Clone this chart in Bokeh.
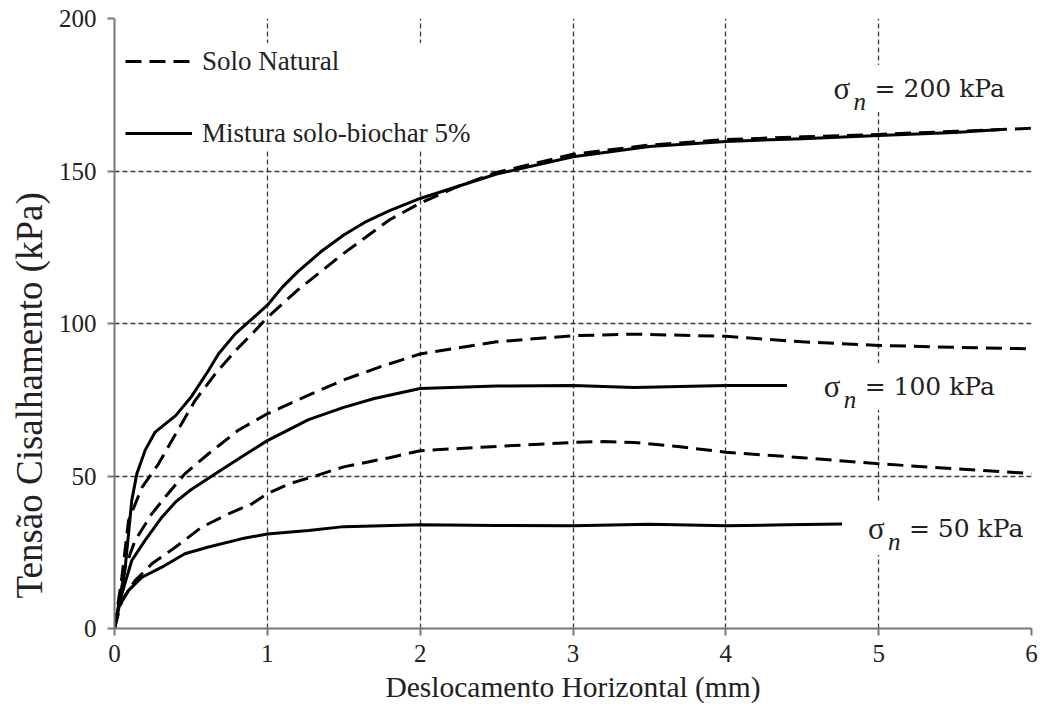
from bokeh.plotting import figure
from bokeh.models import FixedTicker, Legend, LegendItem, Label, Range1d, Title
from bokeh.embed import file_html
from bokeh.resources import INLINE

# ---- data ----
x_nat_200 = [0, 0.048, 0.092, 0.18, 0.288, 0.4, 0.528, 0.66, 0.79, 0.9, 1.0, 1.2, 1.5, 1.8, 2.0, 2.25, 2.5, 3.0, 3.5, 4.0, 4.5, 5.0, 5.5, 6.0]
y_nat_200 = [0, 16.8, 35.4, 46.3, 54, 63.8, 74.8, 83.5, 91, 96.6, 102, 111, 123, 134, 139.5, 145, 149.5, 155.5, 158.5, 160.3, 161.2, 162, 163, 164]

x_mix_200 = [0, 0.07, 0.113, 0.146, 0.2, 0.266, 0.4, 0.5, 0.615, 0.68, 0.79, 0.9, 1.0, 1.1, 1.2, 1.35, 1.5, 1.65, 1.8, 2.0, 2.25, 2.5, 3.0, 3.5, 4.0, 4.5, 5.0, 5.5, 5.8]
y_mix_200 = [0, 20, 42, 50.7, 58.4, 64.4, 69.8, 75.8, 84.6, 90, 96.6, 101.5, 106, 112, 117, 123.5, 129, 133.5, 137, 141, 145, 149, 154.7, 158, 159.7, 160.6, 161.6, 162.6, 163.6]

x_nat_100 = [0, 0.07, 0.135, 0.244, 0.33, 0.46, 0.615, 0.81, 1.0, 1.27, 1.5, 1.75, 2.0, 2.5, 3.0, 3.4, 4.0, 4.5, 5.0, 5.5, 6.0]
y_nat_100 = [0, 20, 28.9, 37.6, 43, 50.7, 57.3, 65, 70.4, 76.5, 81.5, 86, 90, 94, 96, 96.5, 95.8, 94, 92.8, 92.2, 91.7]

x_mix_100 = [0, 0.048, 0.113, 0.2, 0.31, 0.4, 0.5, 0.66, 0.83, 1.0, 1.27, 1.5, 1.7, 2.0, 2.5, 3.0, 3.4, 4.0, 4.4]
y_mix_100 = [0, 11.4, 22.3, 28.9, 36.5, 41.5, 45.5, 50.7, 56.2, 61.6, 68.5, 72.5, 75.4, 78.7, 79.5, 79.7, 79.0, 79.7, 79.7]

x_nat_50 = [0, 0.048, 0.135, 0.244, 0.4, 0.57, 0.746, 0.9, 1.0, 1.14, 1.3, 1.5, 1.8, 2.0, 2.5, 3.0, 3.2, 3.4, 3.7, 4.0, 4.5, 5.0, 5.5, 6.0]
y_nat_50 = [0, 9.2, 15.7, 21.2, 26.7, 33.2, 37.6, 40.9, 44.2, 47.4, 49.8, 53, 56, 58.3, 59.7, 61, 61.3, 61, 59.6, 57.8, 56, 54, 52.4, 50.8]

x_mix_50 = [0, 0.026, 0.092, 0.18, 0.31, 0.46, 0.615, 0.83, 1.0, 1.27, 1.5, 2.0, 2.5, 3.0, 3.5, 4.0, 4.4, 4.76]
y_mix_50 = [0, 7, 12.5, 16.8, 20.1, 24.5, 26.7, 29.4, 31, 32.1, 33.4, 34, 33.8, 33.7, 34.2, 33.7, 34, 34.3]

x_ticks = [0, 1, 2, 3, 4, 5, 6]
y_ticks = [0, 50, 100, 150, 200]

series_names = ["Solo Natural", "Mistura solo-biochar 5%"]
stress_labels = ["200 kPa", "100 kPa", "50 kPa"]
x_title = "Deslocamento Horizontal (mm)"
y_title = "Tensão Cisalhamento (kPa)"

SERIF = "Liberation Serif"

p = figure(width=1040, height=713, output_backend="svg", toolbar_location=None,
           x_range=Range1d(0, 6), y_range=Range1d(0, 200),
           min_border_left=114, min_border_right=9, min_border_top=18, min_border_bottom=85)
p.outline_line_color = None
p.background_fill_color = "white"

# grid
p.xgrid.ticker = FixedTicker(ticks=x_ticks[1:])
p.ygrid.ticker = FixedTicker(ticks=y_ticks[1:])
for g in (p.xgrid, p.ygrid):
    g.grid_line_color = "#3a3a3a"
    g.grid_line_width = 1.3
    g.grid_line_dash = "5 3"

# axes
p.xaxis.ticker = FixedTicker(ticks=x_ticks)
p.yaxis.ticker = FixedTicker(ticks=y_ticks)
for ax in (p.xaxis, p.yaxis):
    ax.axis_line_color = "#777777"
    ax.axis_line_width = 2
    ax.major_tick_line_color = "#777777"
    ax.major_tick_line_width = 2
    ax.major_tick_in = 0
    ax.major_tick_out = 7
    ax.minor_tick_line_color = None
    ax.major_label_text_font = SERIF
    ax.major_label_text_font_size = "25px"
    ax.major_label_text_color = "#222222"
    ax.axis_label_text_font = SERIF
    ax.axis_label_text_font_style = "normal"
    ax.axis_label_text_color = "#222222"

p.xaxis.major_label_standoff = 9
p.yaxis.major_label_standoff = 11
p.xaxis.axis_label = x_title
p.xaxis.axis_label_text_font_size = "29.5px"
p.xaxis.axis_label_standoff = 6

# y-axis title as a side title, shifted below the centre as in the reference
p.add_layout(Title(text=y_title, align="left", offset=30, standoff=11,
                   text_font=SERIF, text_font_size="37px", text_font_style="normal",
                   text_color="#222222"), "left")

DASH = "16 8"
common = dict(line_color="black", line_width=3, line_join="round", line_cap="butt")

r_nat_200 = p.line(x_nat_200, y_nat_200, line_dash=DASH, **common)
r_mix_200 = p.line(x_mix_200, y_mix_200, **common)
p.line(x_nat_100, y_nat_100, line_dash=DASH, **common)
p.line(x_mix_100, y_mix_100, **common)
p.line(x_nat_50, y_nat_50, line_dash=DASH, **common)
p.line(x_mix_50, y_mix_50, **common)

legend = Legend(items=[LegendItem(label=series_names[0], renderers=[r_nat_200]),
                       LegendItem(label=series_names[1], renderers=[r_mix_200])],
                location=(11, 477), orientation="vertical")
legend.label_text_font = SERIF
legend.label_text_font_size = "27px"
legend.label_text_color = "#222222"
legend.glyph_width = 67
legend.glyph_height = 36
legend.label_height = 36
legend.spacing = 36
legend.padding = 10
legend.margin = 0
legend.label_standoff = 10
legend.border_line_color = None
legend.background_fill_color = "white"
legend.background_fill_alpha = 1.0
p.add_layout(legend)

# sigma_n annotations
PAD = 9
label_pos = [(4.705, 174.1), (4.64, 76.4), (4.93, 29.8)]
for (lx, ly), txt in zip(label_pos, stress_labels):
    base = dict(x=lx, y=ly, text_color="#222222", text_baseline="alphabetic")
    p.add_layout(Label(text="σ", text_font=SERIF, text_font_size="31px", padding=PAD,
                       x_offset=-PAD, y_offset=PAD,
                       background_fill_color="white", background_fill_alpha=1.0, **base))
    p.add_layout(Label(text="n", text_font=SERIF, text_font_size="25px", text_font_style="italic",
                       x_offset=20, y_offset=-4, **base))
    p.add_layout(Label(text="= " + txt, text_font="DejaVu Serif", text_font_size="25px",
                       x_offset=41 - PAD, y_offset=PAD, padding=PAD,
                       background_fill_color="white", background_fill_alpha=1.0, **base))

open("out.html", "w").write(file_html(p, INLINE))
